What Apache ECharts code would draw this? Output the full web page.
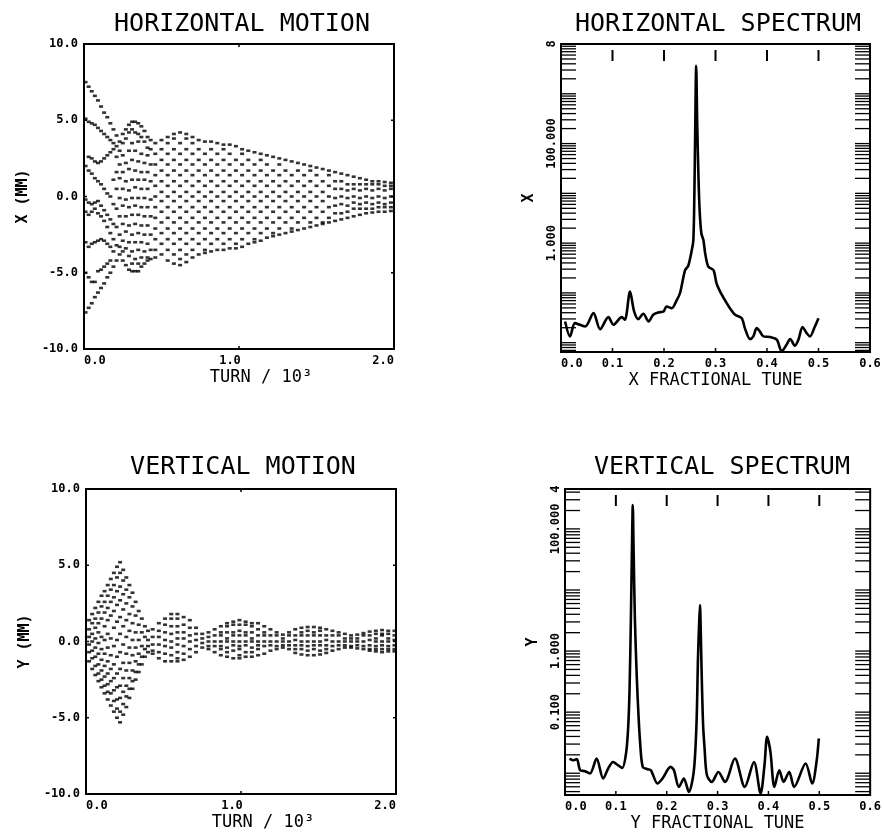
<!DOCTYPE html>
<html><head><meta charset="utf-8">
<script src="https://cdn.jsdelivr.net/npm/echarts@6/dist/echarts.min.js"></script>
<style>html,body{margin:0;padding:0;background:#fff}#c{width:884px;height:835px}</style>
</head><body><div id="c"></div>
<script>
// ---------- titles / axis texts ----------
const panelTitles = ['HORIZONTAL MOTION', 'HORIZONTAL SPECTRUM', 'VERTICAL MOTION', 'VERTICAL SPECTRUM'];
const motionSideTicks = [-5, 0, 5];
const turnInnerTicks = [1];
const tuneInnerTicks = [0.1, 0.2, 0.3, 0.4, 0.5];
const hSpecLabelValues = [1, 100, 10000];
const hSpecLabelTexts = ['1.000', '100.000', '8'];
const vSpecLabelValues = [0.1, 1, 100, 449];
const vSpecLabelTexts = ['0.100', '1.000', '100.000', '4'];

// ---------- horizontal motion (turn/10^3, x mm): dash columns ----------
const hmTurn = [0.01,0.03,0.05,0.07,0.09,0.11,0.13,0.15,0.17,0.19,0.21,0.23,0.25,0.27,0.29,0.31,0.33,0.35,0.37,0.39,0.41,0.43,
  0.46,0.50,0.54,0.58,0.62,0.66,0.70,0.74,0.78,0.82,0.86,0.90,0.94,0.98,1.02,1.06,1.10,1.14,1.18,1.22,1.26,1.30,1.34,1.38,1.42,1.46,1.50,1.54,1.58,1.62,1.66,1.70,1.74,1.78,1.82,1.86,1.90,1.94,1.98];
const hmX = [
  [7.5, 5.1, 2.0, -0.2, -1.0, -3.0, -5.0, -7.6],
  [7.2, 4.9, 2.6, 1.7, -0.4, -1.2, -3.3, -5.3, -7.3],
  [6.9, 4.8, 2.5, 1.5, -0.5, -1.0, -3.1, -5.6, -7.0],
  [6.6, 4.7, 2.3, 1.2, -0.4, -0.8, -3.0, -5.6, -6.6],
  [6.3, 4.5, 2.2, 1.0, -0.3, -1.1, -2.9, -4.9, -6.3],
  [5.9, 4.3, 2.3, 0.8, -0.6, -1.3, -2.8, -4.8, -6.0],
  [5.5, 4.1, 2.5, 0.5, -0.9, -1.6, -2.9, -4.6, -5.7],
  [5.2, 3.9, 2.7, 0.2, -1.2, -2.0, -3.1, -4.4, -5.3],
  [4.8, 3.7, 2.9, 0.0, -1.5, -2.4, -3.3, -4.2, -5.0],
  [4.4, 3.5, 3.1, 1.1, -0.5, -1.8, -2.8, -3.6, -4.6],
  [4.0, 3.3, 2.6, 1.6, 0.5, -0.8, -2.0, -3.2, -4.2],
  [3.6, 3.0, 2.1, 1.2, -0.1, -1.3, -2.5, -3.3, -3.8],
  [3.5, 4.1, 2.7, 1.6, 0.5, -0.6, -1.8, -2.9, -3.6, -4.2],
  [4.4, 3.8, 2.2, 1.0, -0.2, -1.3, -2.3, -3.4, -4.5],
  [4.7, 4.2, 3.0, 1.8, 0.4, -0.7, -1.9, -3.0, -3.9, -4.8],
  [4.9, 4.4, 3.5, 2.4, 1.1, -0.1, -1.2, -2.5, -3.6, -4.4, -4.9],
  [4.9, 4.2, 3.0, 1.7, 0.6, -0.6, -1.8, -3.0, -4.1, -4.9],
  [4.8, 4.1, 3.6, 2.3, 1.1, -0.1, -1.2, -2.4, -3.5, -4.4, -4.9],
  [4.6, 3.9, 2.8, 1.6, 0.5, -0.7, -1.9, -3.0, -4.0, -4.6],
  [4.3, 3.6, 2.2, 1.1, -0.1, -1.3, -2.5, -3.6, -4.4],
  [3.9, 3.2, 2.7, 1.6, 0.5, -0.7, -1.9, -3.1, -4.0, -4.2],
  [3.7, 3.1, 2.1, 1.0, -0.2, -1.3, -2.5, -3.5, -4.1],
  [3.5, 2.8, 2.1, 1.4, 0.7, 0.0, -0.7, -1.4, -2.1, -2.8, -3.5, -4.0],
  [3.7, 3.1, 2.4, 1.7, 1.0, 0.3, -0.3, -1.0, -1.7, -2.4, -3.1, -3.8],
  [3.9, 3.5, 2.8, 2.1, 1.4, 0.7, 0.0, -0.7, -1.4, -2.1, -2.8, -3.5, -4.2],
  [4.1, 3.8, 3.1, 2.4, 1.7, 1.0, 0.3, -0.3, -1.0, -1.7, -2.4, -3.1, -3.8, -4.4],
  [4.2, 3.5, 2.8, 2.1, 1.4, 0.7, 0.0, -0.7, -1.4, -2.1, -2.8, -3.5, -4.1, -4.5],
  [4.1, 3.8, 3.1, 2.4, 1.7, 1.0, 0.3, -0.3, -1.0, -1.7, -2.4, -3.1, -3.8, -4.3],
  [3.9, 3.5, 2.8, 2.1, 1.4, 0.7, 0.0, -0.7, -1.4, -2.1, -2.8, -3.5, -4.0],
  [3.7, 3.1, 2.4, 1.7, 1.0, 0.3, -0.3, -1.0, -1.7, -2.4, -3.1, -3.8],
  [3.6, 2.8, 2.1, 1.4, 0.7, 0.0, -0.7, -1.4, -2.1, -2.8, -3.5, -3.7],
  [3.6, 3.1, 2.4, 1.7, 1.0, 0.3, -0.3, -1.0, -1.7, -2.4, -3.1, -3.6],
  [3.5, 2.8, 2.1, 1.4, 0.7, 0.0, -0.7, -1.4, -2.1, -2.8, -3.5],
  [3.4, 3.1, 2.4, 1.7, 1.0, 0.3, -0.3, -1.0, -1.7, -2.4, -3.1, -3.5],
  [3.4, 2.8, 2.1, 1.4, 0.7, 0.0, -0.7, -1.4, -2.1, -2.8, -3.4],
  [3.3, 2.4, 1.7, 1.0, 0.3, -0.3, -1.0, -1.7, -2.4, -3.1, -3.4],
  [3.1, 2.8, 2.1, 1.4, 0.7, 0.0, -0.7, -1.4, -2.1, -2.8, -3.3],
  [3.0, 2.4, 1.7, 1.0, 0.3, -0.3, -1.0, -1.7, -2.4, -3.1],
  [2.9, 2.1, 1.4, 0.7, 0.0, -0.7, -1.4, -2.1, -2.8, -3.0],
  [2.8, 2.4, 1.7, 1.0, 0.3, -0.3, -1.0, -1.7, -2.4, -2.9],
  [2.7, 2.1, 1.4, 0.7, 0.0, -0.7, -1.4, -2.1, -2.7],
  [2.6, 1.7, 1.0, 0.3, -0.3, -1.0, -1.7, -2.4, -2.6],
  [2.5, 2.1, 1.4, 0.7, 0.0, -0.7, -1.4, -2.1, -2.5],
  [2.4, 1.7, 1.0, 0.3, -0.3, -1.0, -1.7, -2.4],
  [2.3, 1.4, 0.7, 0.0, -0.7, -1.4, -2.1, -2.3],
  [2.2, 1.7, 1.0, 0.3, -0.3, -1.0, -1.7, -2.2],
  [2.1, 1.4, 0.7, 0.0, -0.7, -1.4, -2.1],
  [2.0, 1.7, 1.0, 0.3, -0.3, -1.0, -1.7, -2.0],
  [1.9, 1.4, 0.7, 0.0, -0.7, -1.4, -1.9],
  [1.8, 1.0, 0.3, -0.3, -1.0, -1.7, -1.8],
  [1.7, 1.4, 0.7, 0.0, -0.7, -1.4, -1.7],
  [1.6, 1.0, 0.5, -0.1, -0.6, -1.1, -1.6],
  [1.5, 1.0, 0.5, 0.0, -0.5, -1.1, -1.5],
  [1.4, 0.8, 0.4, -0.1, -0.6, -1.0, -1.4],
  [1.3, 0.8, 0.5, 0.0, -0.4, -0.8, -1.3],
  [1.2, 0.8, 0.4, -0.1, -0.5, -0.8, -1.2],
  [1.1, 0.8, 0.5, 0.0, -0.4, -0.8, -1.1],
  [1.0, 0.8, 0.4, -0.1, -0.5, -0.8, -1.05],
  [1.0, 0.8, 0.5, 0.0, -0.4, -0.7, -1.0],
  [0.95, 0.7, 0.4, -0.1, -0.5, -0.7, -1.0],
  [0.9, 0.7, 0.5, 0.0, -0.4, -0.7, -0.95]
];

// ---------- vertical motion (turn/10^3, y mm): dash columns ----------
const vmTurn = [0.02,0.04,0.06,0.08,0.10,0.12,0.14,0.16,0.18,0.20,0.22,0.24,0.26,0.28,0.30,0.32,0.34,0.36,0.38,0.40,
  0.43,0.47,0.51,0.55,0.59,0.63,0.67,0.71,0.75,0.79,0.83,0.87,0.91,0.95,0.99,1.03,1.07,1.11,1.15,1.19,1.23,1.27,1.31,1.35,1.39,1.43,1.47,1.51,1.55,1.59,1.63,1.67,1.71,1.75,1.79,1.83,1.87,1.91,1.95,1.99];
const vmY = [
  [1.4, 0.8, 0.3, -0.2, -0.7, -1.3],
  [1.8, 1.2, 0.5, 0.0, -0.6, -1.1, -1.8],
  [2.2, 1.5, 0.9, 0.2, -0.4, -1.0, -1.6, -2.2],
  [2.6, 1.9, 1.2, 0.6, -0.1, -0.8, -1.5, -2.1, -2.6],
  [3.0, 2.3, 1.5, 0.3, -0.5, -1.2, -1.9, -2.5, -3.0],
  [3.3, 2.6, 1.9, 1.0, 0.1, -0.8, -1.6, -2.3, -2.9, -3.4],
  [3.7, 3.0, 2.2, 1.4, 0.5, -0.4, -1.3, -2.1, -2.8, -3.3, -3.8],
  [4.1, 3.4, 2.6, 1.7, 0.2, -0.9, -1.8, -2.6, -3.4, -4.2],
  [4.5, 3.7, 2.9, 2.0, 0.9, -0.3, -1.5, -2.4, -3.2, -3.9, -4.6],
  [4.9, 4.2, 3.3, 2.4, 1.3, 0.1, -1.0, -2.1, -3.0, -3.8, -4.4, -5.0],
  [5.2, 4.5, 3.6, 2.7, 1.6, 0.5, -0.7, -1.8, -2.9, -3.7, -4.6, -5.3],
  [4.7, 4.0, 3.1, 2.1, 1.0, -0.2, -1.4, -2.4, -3.3, -4.1, -4.8],
  [4.2, 3.4, 2.5, 1.4, 0.3, -0.8, -1.9, -2.9, -3.6, -4.3],
  [3.7, 2.9, 1.8, 0.7, -0.4, -1.4, -2.4, -3.1, -3.7],
  [3.2, 2.3, 1.2, 0.1, -0.9, -1.9, -2.6, -3.1],
  [2.6, 1.7, 0.6, -0.4, -1.3, -2.0, -2.5],
  [2.0, 1.1, 0.1, -0.8, -1.5, -2.0],
  [1.5, 0.6, -0.3, -1.0, -1.5],
  [1.0, 0.3, -0.5, -1.0],
  [0.7, 0.1, -0.3, -0.7],
  [0.8, 0.3, -0.2, -0.6, -0.8],
  [1.2, 0.7, 0.3, -0.2, -0.7, -1.1],
  [1.5, 1.1, 0.6, 0.1, -0.3, -0.8, -1.3],
  [1.8, 1.5, 1.0, 0.5, 0.0, -0.4, -0.9, -1.3],
  [1.8, 1.5, 1.0, 0.6, 0.2, -0.2, -0.7, -1.1, -1.3],
  [1.6, 1.1, 0.6, 0.2, -0.3, -0.8, -1.2],
  [1.4, 0.9, 0.4, 0.0, -0.5, -1.0],
  [0.9, 0.5, 0.1, -0.3, -0.7],
  [0.5, 0.2, -0.1, -0.4],
  [0.6, 0.3, 0.0, -0.3, -0.5],
  [0.8, 0.4, 0.0, -0.3, -0.7],
  [1.0, 0.6, 0.4, 0.0, -0.3, -0.5, -0.9],
  [1.2, 1.0, 0.6, 0.2, 0.0, -0.4, -0.7, -1.0],
  [1.3, 1.1, 0.6, 0.4, 0.0, -0.25, -0.6, -1.1],
  [1.4, 1.1, 0.7, 0.4, 0.0, -0.3, -0.5, -0.9, -1.1],
  [1.3, 1.1, 0.6, 0.4, 0.0, -0.25, -0.7, -1.0],
  [1.2, 1.0, 0.6, 0.2, 0.0, -0.4, -0.7, -1.0],
  [1.2, 0.8, 0.4, 0.0, -0.25, -0.5, -0.9],
  [1.0, 0.6, 0.4, 0.0, -0.3, -0.8],
  [0.8, 0.4, 0.0, -0.25, -0.6],
  [0.6, 0.4, 0.0, -0.3, -0.5],
  [0.45, 0.2, 0.0, -0.25, -0.4],
  [0.6, 0.4, 0.0, -0.25, -0.5],
  [0.8, 0.4, 0.1, -0.25, -0.5, -0.75],
  [0.9, 0.6, 0.4, 0.0, -0.25, -0.5, -0.85],
  [0.95, 0.7, 0.4, 0.0, -0.3, -0.6, -0.9],
  [0.95, 0.6, 0.4, 0.0, -0.25, -0.5, -0.9],
  [0.9, 0.7, 0.4, 0.0, -0.25, -0.6, -0.85],
  [0.8, 0.4, 0.1, -0.25, -0.5, -0.75],
  [0.7, 0.4, 0.0, -0.3, -0.6],
  [0.6, 0.4, 0.0, -0.25, -0.5],
  [0.5, 0.2, 0.0, -0.25, -0.4],
  [0.4, 0.2, 0.0, -0.3, -0.4],
  [0.45, 0.2, 0.0, -0.25, -0.45],
  [0.55, 0.4, 0.0, -0.3, -0.5],
  [0.65, 0.4, 0.1, -0.25, -0.5, -0.6],
  [0.7, 0.5, 0.2, 0.0, -0.3, -0.5, -0.65],
  [0.75, 0.5, 0.4, 0.0, -0.25, -0.5, -0.7],
  [0.7, 0.5, 0.2, 0.0, -0.3, -0.5, -0.65],
  [0.7, 0.4, 0.1, -0.25, -0.5, -0.65]
];

// ---------- spectra: [fractional tune, amplitude] ----------
const hSpectrum = [[0.008,0.0267],[0.0175,0.0134],[0.027,0.0247],[0.037,0.0229],[0.047,0.0212],[0.063,0.0392],[0.076,0.0187],
  [0.092,0.0326],[0.102,0.0229],[0.118,0.0326],[0.124,0.0288],[0.134,0.106],[0.142,0.0424],[0.150,0.0297],[0.160,0.038],
  [0.170,0.0267],[0.179,0.0363],[0.189,0.0405],[0.199,0.0424],[0.205,0.0533],[0.215,0.0493],[0.225,0.0724],[0.231,0.0984],
  [0.241,0.288],[0.247,0.347],[0.254,0.724],[0.257,1.15],[0.259,10],[0.2605,158],[0.2625,3630],[0.2645,251],[0.2665,31.6],
  [0.269,5.0],[0.2725,1.58],[0.2765,1.15],[0.280,0.621],[0.286,0.337],[0.296,0.288],[0.302,0.156],[0.309,0.106],[0.318,0.0724],
  [0.328,0.0493],[0.338,0.0363],[0.351,0.0311],[0.357,0.0196],[0.367,0.0118],[0.3735,0.0134],[0.380,0.0196],[0.386,0.0169],
  [0.393,0.0134],[0.406,0.013],[0.419,0.0115],[0.4285,0.0067],[0.438,0.0091],[0.445,0.0118],[0.454,0.0087],[0.461,0.0115],
  [0.469,0.0206],[0.477,0.0156],[0.4835,0.0134],[0.493,0.0212],[0.500,0.0311]];
const vSpectrum = [[0.009,0.0174],[0.0168,0.0163],[0.0233,0.0170],[0.0298,0.0112],[0.0395,0.0108],[0.0492,0.00989],[0.0621,0.0174],
  [0.0751,0.00818],[0.0848,0.0119],[0.0945,0.0153],[0.1042,0.0135],[0.1126,0.0122],[0.1204,0.0224],[0.1245,0.0631],[0.127,0.251],
  [0.1295,3.16],[0.1315,39.8],[0.1333,245],[0.135,39.8],[0.1375,3.16],[0.141,0.398],[0.1445,0.0891],[0.1476,0.0327],[0.1528,0.0127],
  [0.1625,0.0116],[0.1689,0.0112],[0.1819,0.00678],[0.1916,0.00818],[0.2078,0.0127],[0.2142,0.0112],[0.2239,0.00597],[0.2337,0.00818],
  [0.2434,0.00494],[0.2531,0.0105],[0.2585,0.0631],[0.2615,0.794],[0.2635,2.51],[0.2654,5.68],[0.267,2.0],[0.2685,0.501],[0.2715,0.0631],
  [0.2745,0.0251],[0.279,0.00933],[0.2887,0.00721],[0.3016,0.0105],[0.3146,0.00721],[0.334,0.0174],[0.3534,0.00597],[0.3715,0.0153],
  [0.3845,0.00465],[0.3922,0.0135],[0.3974,0.0394],[0.4039,0.0224],[0.4117,0.00597],[0.4214,0.0112],[0.4298,0.00721],[0.4408,0.0105],
  [0.4505,0.00597],[0.4731,0.0144],[0.4861,0.00678],[0.4945,0.0153],[0.499,0.037]];

// ---------- build ----------
function dashes(turns, cols) {
  const out = [];
  const n = Math.min(turns.length, cols.length);
  for (let i = 0; i < n; i++) for (const v of cols[i]) out.push([turns[i], v]);
  return out;
}
const logMantissas = [1,2,3,4,5,6,7,8,9];
function logTicks(min, max) {
  const out = [];
  for (let e = -3; e <= 4; e++) for (const m of logMantissas) {
    const v = +(m * Math.pow(10, e)).toPrecision(4);
    if (v >= min && v <= max) out.push(v);
  }
  return out;
}
const MONO = 'DejaVu Sans Mono';
const tickLabel = { fontFamily: MONO, fontWeight: 'bold', fontSize: 12, color: '#000' };
const HS_MIN = 0.0065, HS_MAX = 10000, VS_MIN = 0.0044, VS_MAX = 450;

const grids = [
  { left: 84, top: 44, width: 310, height: 305 },
  { left: 561, top: 44, width: 309, height: 308 },
  { left: 86, top: 489, width: 310, height: 305 },
  { left: 565, top: 489, width: 309, height: 306 }
].map(g => Object.assign(g, { show: true, borderColor: '#000', borderWidth: 2, backgroundColor: 'transparent' }));

function motionX(gi, name) {
  return {
    gridIndex: gi, type: 'value', min: 0, max: 2, interval: 1, position: 'bottom',
    axisLine: { show: false }, splitLine: { show: false }, axisTick: { show: false },
    axisLabel: Object.assign({
      margin: 6, alignMinLabel: 'left', alignMaxLabel: 'right',
      formatter: v => (v === 1 ? '{m|1.0}' : v.toFixed(1)),
      rich: { m: Object.assign({ padding: [0, 18, 0, 0] }, tickLabel) }
    }, tickLabel),
    name: name, nameLocation: 'middle', nameGap: 20,
    nameTextStyle: { fontFamily: MONO, fontSize: 17, color: '#000', padding: [0, 0, 0, 44] }
  };
}
function motionY(gi, name) {
  return {
    gridIndex: gi, type: 'value', min: -10, max: 10, interval: 5, position: 'left',
    axisLine: { show: false }, splitLine: { show: false }, axisTick: { show: false },
    axisLabel: Object.assign({ margin: 6, formatter: v => v.toFixed(1) }, tickLabel),
    name: name, nameLocation: 'middle', nameGap: 53,
    nameTextStyle: { fontFamily: MONO, fontWeight: 'bold', fontSize: 15, color: '#000' }
  };
}
function specX(gi, name) {
  return {
    gridIndex: gi, type: 'value', min: 0, max: 0.6, interval: 0.1, position: 'bottom',
    axisLine: { show: false }, splitLine: { show: false }, axisTick: { show: false },
    axisLabel: Object.assign({ margin: 6, formatter: v => v.toFixed(1), alignMinLabel: 'left' }, tickLabel),
    name: name, nameLocation: 'middle', nameGap: 20,
    nameTextStyle: { fontFamily: MONO, fontSize: 17, color: '#000' }
  };
}
function specY(gi, name, min, max, labVals, labTexts) {
  return {
    gridIndex: gi, type: 'log', logBase: 10, min: min, max: max, position: 'left',
    axisLine: { show: false }, splitLine: { show: false }, axisTick: { show: false },
    axisLabel: Object.assign({
      rotate: 90, margin: 3, customValues: labVals,
      formatter: v => { let best = 0; labVals.forEach((lv, i) => { if (Math.abs(Math.log10(lv) - Math.log10(v)) < Math.abs(Math.log10(labVals[best]) - Math.log10(v))) best = i; }); return labTexts[best]; }
    }, tickLabel),
    name: name, nameLocation: 'middle', nameGap: 24,
    nameTextStyle: { fontFamily: MONO, fontWeight: 'bold', fontSize: 15, color: '#000' }
  };
}

// tick marks drawn inward through the axes' own scales
function tickSeries(idx, cfg) {
  return {
    type: 'custom', xAxisIndex: idx, yAxisIndex: idx, silent: true, clip: false, z: 5,
    data: [[cfg.xRef, cfg.yRef]],
    renderItem: function (params, api) {
      const cs = params.coordSys;
      const L = cs.x, R = cs.x + cs.width, T = cs.y, B = cs.y + cs.height;
      const kids = [];
      const ln = (x1, y1, x2, y2, w) => kids.push({ type: 'line', shape: { x1, y1, x2, y2 }, style: { stroke: '#000', lineWidth: w } });
      (cfg.yTicks || []).forEach(v => {
        const y = api.coord([cfg.xRef, v])[1];
        ln(L, y, L + cfg.yLen, y, cfg.yW);
        ln(R - cfg.yLen, y, R, y, cfg.yW);
      });
      (cfg.bottomTicks || []).forEach(v => {
        const x = api.coord([v, cfg.yRef])[0];
        ln(x, B, x, B - cfg.bottomLen, 1.5);
      });
      (cfg.topTicks || []).forEach(v => {
        const x = api.coord([v, cfg.yRef])[0];
        ln(x, T + cfg.topGap, x, T + cfg.topGap + cfg.topLen, cfg.topW);
      });
      return { type: 'group', children: kids };
    }
  };
}

const titleCenters = [[237, 7], [713, 7], [238, 450], [717, 450]];
const option = {
  animation: false,
  backgroundColor: '#fff',
  title: panelTitles.map((t, i) => ({
    text: t, left: titleCenters[i][0], top: titleCenters[i][1], textAlign: 'center',
    textStyle: { fontFamily: MONO, fontWeight: 'normal', fontSize: 25, color: '#000' }
  })),
  grid: grids,
  xAxis: [motionX(0, 'TURN / 10³'), specX(1, 'X FRACTIONAL TUNE'), motionX(2, 'TURN / 10³'), specX(3, 'Y FRACTIONAL TUNE')],
  yAxis: [motionY(0, 'X (MM)'), specY(1, 'X', HS_MIN, HS_MAX, hSpecLabelValues, hSpecLabelTexts),
          motionY(2, 'Y (MM)'), specY(3, 'Y', VS_MIN, VS_MAX, vSpecLabelValues, vSpecLabelTexts)],
  series: [
    { type: 'scatter', xAxisIndex: 0, yAxisIndex: 0, data: dashes(hmTurn, hmX), symbol: 'rect', symbolSize: [4, 2.6],
      itemStyle: { color: '#000' }, silent: true },
    { type: 'line', xAxisIndex: 1, yAxisIndex: 1, data: hSpectrum, showSymbol: false, smooth: 0.3,
      lineStyle: { color: '#000', width: 2.6 }, silent: true },
    { type: 'scatter', xAxisIndex: 2, yAxisIndex: 2, data: dashes(vmTurn, vmY), symbol: 'rect', symbolSize: [4, 2.6],
      itemStyle: { color: '#000' }, silent: true },
    { type: 'line', xAxisIndex: 3, yAxisIndex: 3, data: vSpectrum, showSymbol: false, smooth: 0.3,
      lineStyle: { color: '#000', width: 2.6 }, silent: true },
    tickSeries(0, { xRef: 0, yRef: 0, yTicks: motionSideTicks, yLen: 3, yW: 1.5, bottomTicks: turnInnerTicks, bottomLen: 3, topTicks: turnInnerTicks, topGap: 0, topLen: 3, topW: 1.5 }),
    tickSeries(1, { xRef: 0, yRef: 1, yTicks: logTicks(HS_MIN, HS_MAX), yLen: 15, yW: 1.3, bottomTicks: tuneInnerTicks, bottomLen: 4, topTicks: tuneInnerTicks, topGap: 6, topLen: 11, topW: 2 }),
    tickSeries(2, { xRef: 0, yRef: 0, yTicks: motionSideTicks, yLen: 3, yW: 1.5, bottomTicks: turnInnerTicks, bottomLen: 3, topTicks: turnInnerTicks, topGap: 0, topLen: 3, topW: 1.5 }),
    tickSeries(3, { xRef: 0, yRef: 1, yTicks: logTicks(VS_MIN, VS_MAX), yLen: 15, yW: 1.3, bottomTicks: tuneInnerTicks, bottomLen: 4, topTicks: tuneInnerTicks, topGap: 6, topLen: 11, topW: 2 })
  ]
};
const chart = echarts.init(document.getElementById('c'), null, { renderer: 'canvas' });
chart.setOption(option);
</script></body></html>
